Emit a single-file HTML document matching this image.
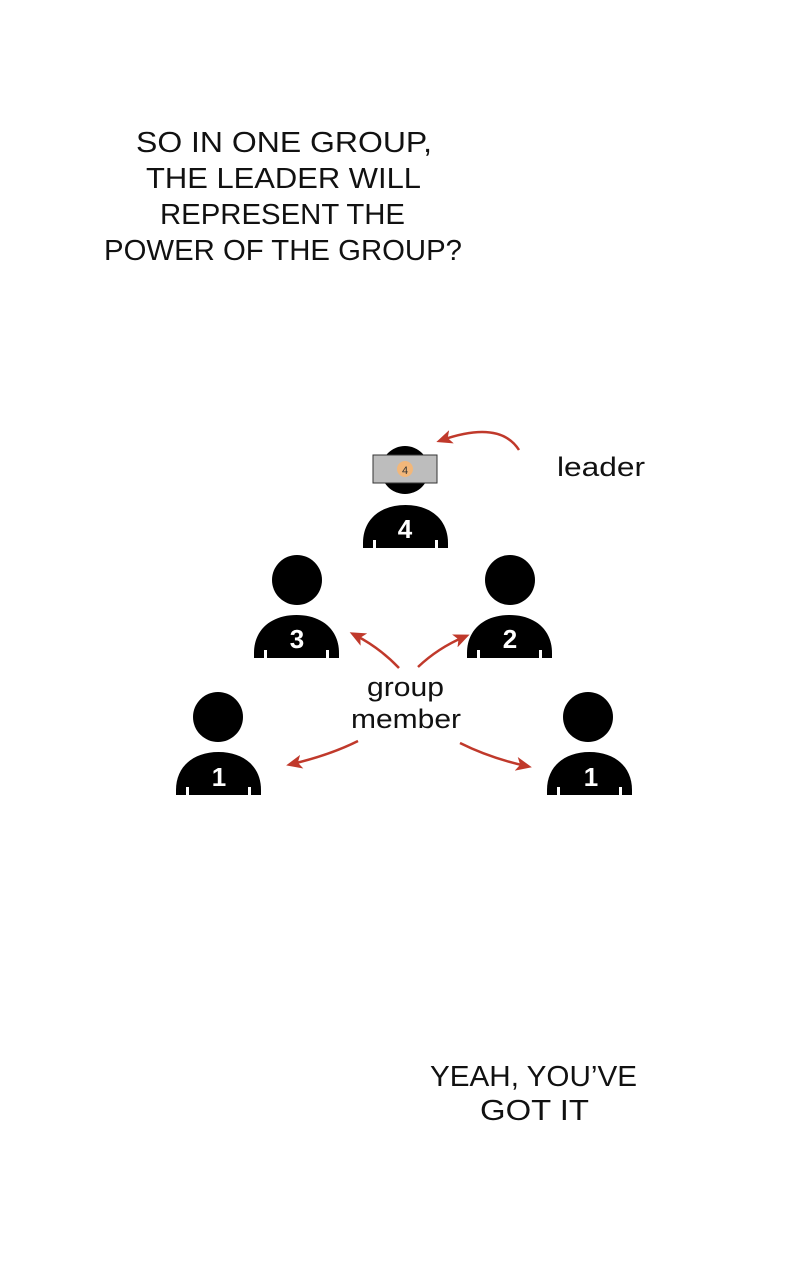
<!DOCTYPE html>
<html><head><meta charset="utf-8"><style>html,body{margin:0;padding:0;background:#fff}svg{display:block}</style></head>
<body>
<svg width="800" height="1280" viewBox="0 0 800 1280" xmlns="http://www.w3.org/2000/svg">
<defs>
<g id="body">
<path d="M0,43 L0,38 C0,14 18,0 42.5,0 C67,0 85,14 85,38 L85,43 Z" fill="#000"/>
<rect x="10" y="35" width="3" height="8" fill="#fff"/>
<rect x="72" y="35" width="3" height="8" fill="#fff"/>
</g>
<marker id="ah" markerWidth="16" markerHeight="14" refX="10" refY="7" orient="auto" markerUnits="userSpaceOnUse" viewBox="0 0 16 14"><path d="M0,0 L16,7 L0,14 L4,7 Z" fill="#c0392b"/></marker>
</defs>
<g font-family="Liberation Sans, sans-serif" font-size="29" fill="#111">
<text x="136" y="152" textLength="296" lengthAdjust="spacingAndGlyphs">SO IN ONE  GROUP,</text>
<text x="146" y="188" textLength="275" lengthAdjust="spacingAndGlyphs">THE LEADER WILL</text>
<text x="160" y="224" textLength="245" lengthAdjust="spacingAndGlyphs">REPRESENT THE</text>
<text x="104" y="260" textLength="358" lengthAdjust="spacingAndGlyphs">POWER OF THE GROUP?</text>
<text x="430" y="1086" textLength="207" lengthAdjust="spacingAndGlyphs">YEAH, YOU’VE</text>
<text x="480" y="1120" textLength="109" lengthAdjust="spacingAndGlyphs">GOT IT</text>
<text x="557" y="476" font-size="27" textLength="88" lengthAdjust="spacingAndGlyphs">leader</text>
<text x="367" y="696" font-size="27" textLength="77" lengthAdjust="spacingAndGlyphs">group</text>
<text x="351" y="728" font-size="27" textLength="110" lengthAdjust="spacingAndGlyphs">member</text>
</g>
<circle cx="405" cy="470" r="24" fill="#000"/>
<rect x="373" y="455" width="64" height="28" fill="#bdbdbd" stroke="#333" stroke-width="1"/>
<circle cx="405" cy="469" r="8" fill="#f2b77a"/>
<text x="405" y="474" font-family="Liberation Sans, sans-serif" font-size="11" text-anchor="middle" fill="#333">4</text>
<use href="#body" x="363" y="505"/>
<circle cx="297" cy="580" r="25" fill="#000"/>
<use href="#body" x="254" y="615"/>
<circle cx="510" cy="580" r="25" fill="#000"/>
<use href="#body" x="467" y="615"/>
<circle cx="218" cy="717" r="25" fill="#000"/>
<use href="#body" x="176" y="752"/>
<circle cx="588" cy="717" r="25" fill="#000"/>
<use href="#body" x="547" y="752"/>
<g font-family="Liberation Sans, sans-serif" font-weight="bold" font-size="26" fill="#fff" text-anchor="middle">
<text x="405" y="538">4</text>
<text x="297" y="648">3</text>
<text x="510" y="648">2</text>
<text x="219" y="786">1</text>
<text x="591" y="786">1</text>
</g>
<g fill="none" stroke="#c0392b" stroke-width="2.5">
<path d="M519,450 Q500,420 442,440" marker-end="url(#ah)"/>
<path d="M399,668 Q380,648 355,635" marker-end="url(#ah)"/>
<path d="M418,667 Q438,648 464,637" marker-end="url(#ah)"/>
<path d="M358,741 Q330,755 292,764" marker-end="url(#ah)"/>
<path d="M460,743 Q490,758 526,766" marker-end="url(#ah)"/>
</g>
</svg>
</body></html>
